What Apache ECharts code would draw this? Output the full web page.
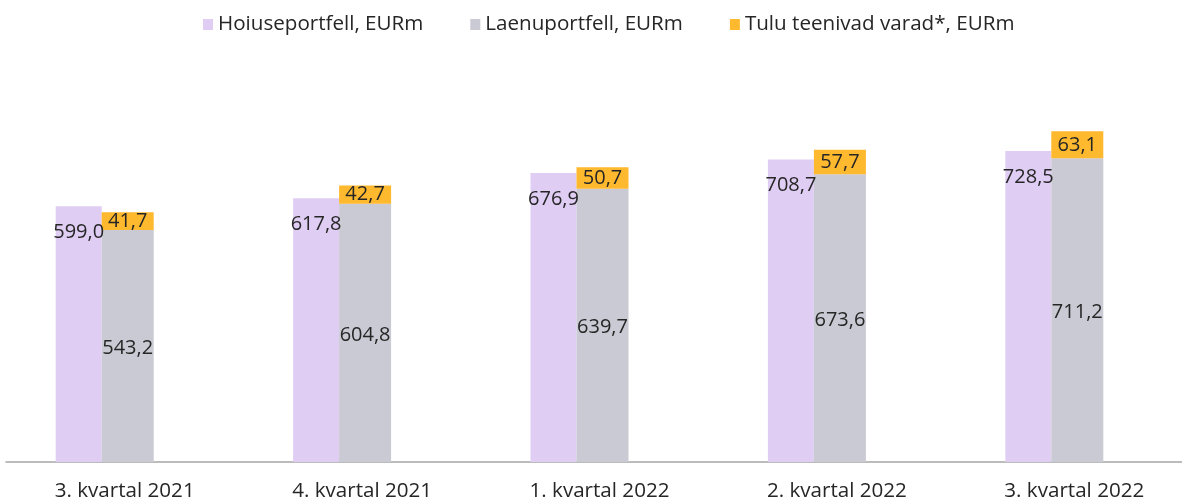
<!DOCTYPE html>
<html>
<head>
<meta charset="utf-8">
<script src="https://cdn.jsdelivr.net/npm/echarts@6/dist/echarts.min.js"></script>
<style>
  html, body { margin: 0; padding: 0; background: #fff; }
  #main { width: 1182px; height: 503px; }
</style>
</head>
<body>
<div id="main"></div>
<script>
var categories = ['3. kvartal 2021', '4. kvartal 2021', '1. kvartal 2022', '2. kvartal 2022', '3. kvartal 2022'];
var hoiused = [599.0, 617.8, 676.9, 708.7, 728.5];
var laenud = [543.2, 604.8, 639.7, 673.6, 711.2];
var tulu = [41.7, 42.7, 50.7, 57.7, 63.1];
// tühi veerg, et tulbad jääksid kategooria keskelt vasakule nagu originaalis
var tühi = [0, 0, 0, 0, 0];

var seriesNames = ['Hoiuseportfell, EURm', 'Laenuportfell, EURm', 'Tulu teenivad varad*, EURm'];

function fmt(p) {
    return p.value.toFixed(1).replace('.', ',');
}

var font = '"Open Sans", sans-serif';
var textColor = '#262626';

var chartObj = echarts.init(document.getElementById('main'));
var chartOpt = {
    animation: false,
    textStyle: { fontFamily: font },
    legend: {
        data: seriesNames,
        top: 9,
        left: 198,
        itemWidth: 10,
        itemHeight: 11,
        itemGap: 47,
        icon: 'rect',
        textStyle: { fontFamily: font, fontSize: 20.6, color: textColor }
    },
    grid: { left: 6, right: -11, top: 35, bottom: 41, outerBoundsMode: 'none' },
    xAxis: {
        type: 'category',
        data: categories,
        axisTick: { show: false },
        axisLine: { lineStyle: { color: '#A6A6A6', width: 1.5 } },
        axisLabel: { fontFamily: font, fontSize: 20.6, color: textColor, margin: 19 }
    },
    yAxis: {
        type: 'value',
        min: 0,
        max: 1000,
        show: false,
        splitLine: { show: false }
    },
    series: [{
        name: seriesNames[0],
        type: 'bar',
        stack: 'a',
        barWidth: 46,
        barGap: 0,
        data: hoiused,
        itemStyle: { color: '#DFCDF3' },
        label: {
            show: true,
            position: ['50%', 26],
            align: 'center',
            verticalAlign: 'middle',
            formatter: fmt,
            fontFamily: font, fontSize: 20, color: textColor
        }
    }, {
        name: seriesNames[1],
        type: 'bar',
        stack: 'b',
        barWidth: 52,
        barGap: 0,
        data: laenud,
        itemStyle: { color: '#C9CAD3' },
        label: {
            show: true,
            position: 'inside',
            offset: [0, 2],
            formatter: fmt,
            fontFamily: font, fontSize: 20, color: textColor
        }
    }, {
        name: seriesNames[2],
        type: 'bar',
        stack: 'b',
        barWidth: 52,
        barGap: 0,
        data: tulu,
        itemStyle: { color: '#FFB92E' },
        label: {
            show: true,
            position: 'inside',
            formatter: fmt,
            fontFamily: font, fontSize: 20, color: textColor
        }
    }, {
        name: '',
        type: 'bar',
        stack: 'c',
        barWidth: 40,
        barGap: 0,
        silent: true,
        data: tühi,
        itemStyle: { color: 'rgba(0,0,0,0)' },
        label: { show: false }
    }]
};
chartObj.setOption(chartOpt);
</script>
</body>
</html>
